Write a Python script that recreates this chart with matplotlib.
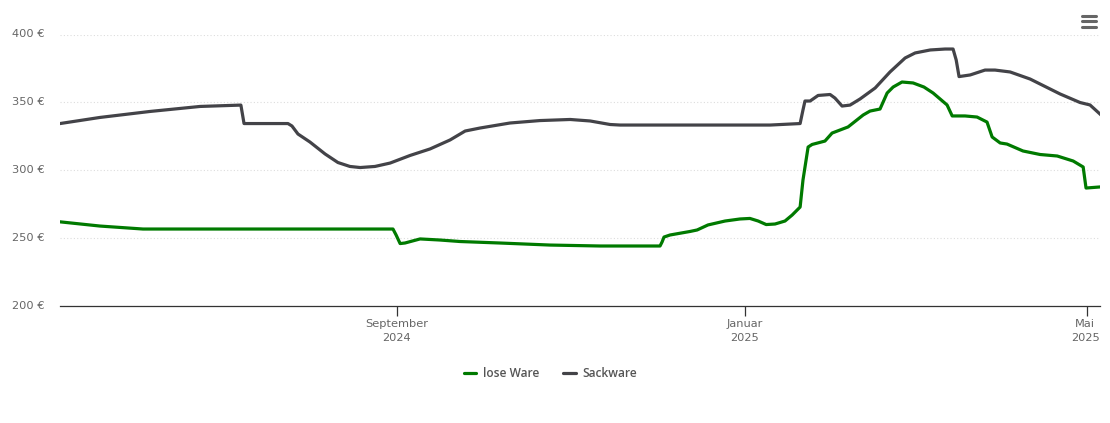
import matplotlib
matplotlib.use("Agg")
import matplotlib.pyplot as plt
from matplotlib.lines import Line2D
from matplotlib.transforms import ScaledTranslation

W, H = 1110, 423
# days since 6 May 2024, price in EUR
lose_days = [0, 14, 29.1, 116.7, 117.8, 119.2, 120.9, 126.2, 133.2, 140.2, 154.2, 171.7, 189.3, 210.3, 211, 211.7, 213.8, 220.8, 223.3, 227.1, 233.1, 238.3, 241.8, 244.7, 247.5, 250.6, 254.1, 256.6, 259.4, 260.4, 262.2, 263.6, 268.1, 270.6, 276.2, 281.5, 283.9, 287.4, 289.9, 292, 295.1, 299, 302.8, 306, 310.9, 312.7, 317.2, 321.4, 324.9, 326.7, 329.5, 331.9, 337.5, 343.5, 349.5, 355.1, 358.6, 359.6, 364.5]
lose_vals = [262, 258.9, 256.7, 256.7, 252.3, 246, 246.4, 249.4, 248.6, 247.5, 246.4, 244.9, 244.2, 244.2, 247.1, 250.8, 252.3, 254.9, 256, 259.7, 262.6, 264.1, 264.5, 262.6, 260, 260.4, 262.6, 267, 272.9, 292.8, 317.1, 319, 321.5, 327.4, 331.9, 340.7, 343.6, 345.1, 356.9, 361.3, 365, 364.3, 361.3, 356.9, 348.1, 340, 340, 339.2, 335.5, 324.5, 320.1, 319.3, 314.2, 311.6, 310.5, 306.8, 302.4, 286.9, 287.7]
sack_days = [0, 14, 31.5, 49.1, 63.4, 64.5, 79.9, 81.3, 83.4, 87.6, 92.9, 97.4, 101.6, 105.2, 110.4, 115.7, 122.7, 129.7, 136.7, 142, 147.2, 157.7, 168.2, 178.8, 185.8, 192.8, 196.3, 224.3, 248.9, 259.4, 260.4, 261.1, 262.9, 265.7, 269.9, 271.6, 274.1, 276.9, 280.4, 285.7, 290.9, 296.2, 299.7, 305, 310.2, 313, 314.1, 315.1, 319, 324.2, 327.7, 333, 340, 350.5, 357.5, 361, 364.5]
sack_vals = [334.4, 338.9, 343.3, 347, 348, 334.4, 334.4, 332.6, 326.7, 320.8, 312, 305.7, 302.8, 302, 302.8, 305.3, 310.9, 315.7, 322.3, 328.9, 331.1, 334.8, 336.6, 337.4, 336.3, 333.7, 333.3, 333.3, 333.3, 334.4, 344.4, 351, 351, 355.1, 355.8, 353.2, 347.3, 348, 352.5, 360.6, 372.4, 382.7, 386.4, 388.6, 389.3, 389.3, 381.2, 369, 370.2, 373.8, 373.8, 372.4, 367.2, 356.2, 349.9, 348.1, 341.4]

y_ticks = [200, 250, 300, 350, 400]
y_labels = ["200 €", "250 €", "300 €", "350 €", "400 €"]
x_ticks = [118, 240, 360]
x_labels = ["September\n2024", "Januar\n2025", "Mai\n2025"]
series_names = ["lose Ware", "Sackware"]
GREEN, DARK, GREY = "#007a00", "#434348", "#666666"

plt.rcParams["font.family"] = ["DejaVu Sans"]
fig = plt.figure(figsize=(W / 100, H / 100), dpi=100, facecolor="white")
ax = fig.add_axes([60 / W, 1 - 306 / H, 1040 / W, (306 - 34.5) / H])
ax.set_xlim(0, 364.5)
ax.set_ylim(200, 400)
ax.plot(lose_days, lose_vals, color=GREEN, lw=2.3, solid_joinstyle="round", label=series_names[0])
ax.plot(sack_days, sack_vals, color=DARK, lw=2.3, solid_joinstyle="round", label=series_names[1])
ax.set_yticks(y_ticks, y_labels)
ax.set_xticks(x_ticks, x_labels)
ax.grid(axis="y", color="#dddddd", lw=0.8, ls=(0, (1, 2)))
ax.set_axisbelow(True)
for s in ["top", "right", "left"]:
    ax.spines[s].set_visible(False)
ax.spines["bottom"].set_color("#333333")
ax.spines["bottom"].set_linewidth(0.9)
ax.tick_params(axis="y", length=0, pad=11, labelsize=8.2, labelcolor=GREY)
ax.tick_params(axis="x", length=7, width=0.9, color="#333333", pad=2, labelsize=8.2, labelcolor=GREY)
for t in ax.get_yticklabels():
    t.set_transform(t.get_transform() + ScaledTranslation(0, 1.5 / 100, fig.dpi_scale_trans))
for t in ax.get_xticklabels():
    t.set_linespacing(1.55)
last = ax.get_xticklabels()[-1]
last.set_transform(last.get_transform() + ScaledTranslation(-2 / 100, 0, fig.dpi_scale_trans))

def px(x, y):
    return x / W, 1 - y / H

# menu icon
for y in (16, 21.5, 27):
    x0, y0 = px(1082, y)
    x1, y1 = px(1096, y)
    fig.add_artist(Line2D([x0, x1], [y0, y1], color=GREY, lw=2.2, solid_capstyle="round"))

# legend
for name, col, a, b, tx in [(series_names[0], GREEN, 464, 476, 483), (series_names[1], DARK, 563, 576, 582)]:
    x0, y0 = px(a, 373)
    x1, y1 = px(b, 373)
    fig.add_artist(Line2D([x0, x1], [y0, y1], color=col, lw=2.3, solid_capstyle="round"))
    tx0, ty0 = px(tx, 373)
    fig.text(tx0, ty0, name, color="#555555", fontsize=8.6, fontweight="semibold",
             family="Open Sans", va="center", ha="left")

fig.savefig("out.png", dpi=100)
